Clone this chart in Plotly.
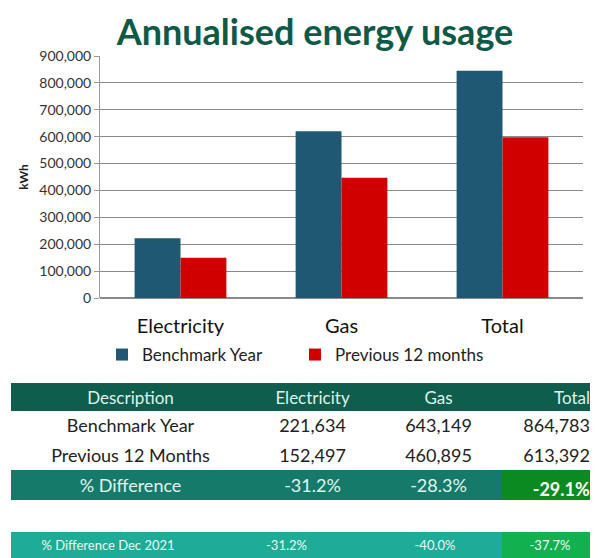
import plotly.graph_objects as go

# chart data
categories = ["Electricity", "Gas", "Total"]
benchmark_year = [222000, 620000, 845000]
previous_12_months = [150000, 447000, 598000]

# table data
col_headers = ["Description", "Electricity", "Gas", "Total"]
row_desc = ["Benchmark Year", "Previous 12 Months", "% Difference"]
row_elec = ["221,634", "152,497", "-31.2%"]
row_gas = ["643,149", "460,895", "-28.3%"]
row_total = ["864,783", "613,392", "<b>-29.1%</b>"]
dec_row = ["% Difference Dec 2021", "-31.2%", "-40.0%", "-37.7%"]

W, H = 598, 558
OFF = 8  # page body margin


def fx(px):
    return (px - OFF) / W


def fy(px):
    return 1 - (px - OFF) / H


FONT = "Lato"
HEAD = "#0f5d4d"
DIFF = "#167a6a"
GREEN = "#0b8a1f"
LIGHT = "#1fac96"
LGREEN = "#13b04f"

fig = go.Figure()
fig.add_trace(go.Bar(x=categories, y=benchmark_year, name="Benchmark Year",
                     marker=dict(color="#1f5872", line=dict(width=0))))
fig.add_trace(go.Bar(x=categories, y=previous_12_months, name="Previous 12 months",
                     marker=dict(color="#d00000", line=dict(width=0))))

plain = ["white", "white", DIFF]
last = ["white", "white", GREEN]
fig.add_trace(go.Table(
    domain=dict(x=[fx(11), fx(598)], y=[fy(500), fy(383)]),
    columnwidth=[239, 125, 127, 96],
    header=dict(values=col_headers, fill_color=HEAD, line=dict(color=HEAD, width=1),
                font=dict(family=FONT, size=17, color="#dff3ec"), height=27,
                align=["center", "center", "center", "right"]),
    cells=dict(values=[row_desc, row_elec, row_gas, row_total],
               fill_color=[plain, plain, plain, last],
               line=dict(color=[plain, plain, plain, last], width=1),
               font=dict(family=FONT, size=18,
                         color=[["#222", "#222", "#e3f4ee"]] * 3 + [["#222", "#222", "white"]]),
               height=30,
               align=["center", "center", "center", "right"]),
))
fig.add_trace(go.Table(
    domain=dict(x=[fx(11), fx(598)], y=[0, fy(532)]),
    columnwidth=[194, 163, 134, 96],
    header=dict(values=dec_row,
                fill_color=[LIGHT, LIGHT, LIGHT, LGREEN],
                line=dict(color=[LIGHT, LIGHT, LIGHT, LGREEN], width=1),
                font=dict(family=FONT, size=13, color="#eafaf5"), height=27,
                align=["center", "center", "center", "center"]),
    cells=dict(values=[[], [], [], []], height=1, line=dict(width=0)),
))

fig.update_layout(
    width=W, height=H,
    margin=dict(l=0, r=0, t=0, b=0),
    paper_bgcolor="white", plot_bgcolor="white",
    font=dict(family=FONT, color="#333"),
    title=dict(text="<b>Annualised energy usage</b>", x=fx(315), xanchor="center",
               y=fy(32), yanchor="middle",
               font=dict(family=FONT, size=36, color="#0e5a47")),
    barmode="group", bargap=0.43, bargroupgap=0,
    xaxis=dict(domain=[fx(100), fx(583)], showgrid=False, showline=False,
               ticks="", ticklabelstandoff=14, automargin=False,
               tickfont=dict(family=FONT, size=20, color="#111")),
    yaxis=dict(domain=[fy(298), fy(56)], range=[0, 900000], dtick=100000,
               tickformat=",", showgrid=True, gridcolor="#8a8a8a", gridwidth=1,
               showline=True, linecolor="#9a9a9a", ticks="outside", ticklen=5,
               tickcolor="#9a9a9a", zeroline=True, zerolinecolor="#8a8a8a",
               automargin=False,
               tickfont=dict(family=FONT, size=14, color="#333"),
               title=dict(text="<b>kWh</b>", font=dict(family=FONT, size=12, color="#222"),
                          standoff=8)),
    legend=dict(orientation="h", x=fx(102), xanchor="left", y=fy(337), yanchor="top",
                entrywidth=148, entrywidthmode="pixels", itemwidth=30,
                font=dict(family=FONT, size=17, color="#222"), bgcolor="rgba(0,0,0,0)"),
)

fig.write_html("out.html")
